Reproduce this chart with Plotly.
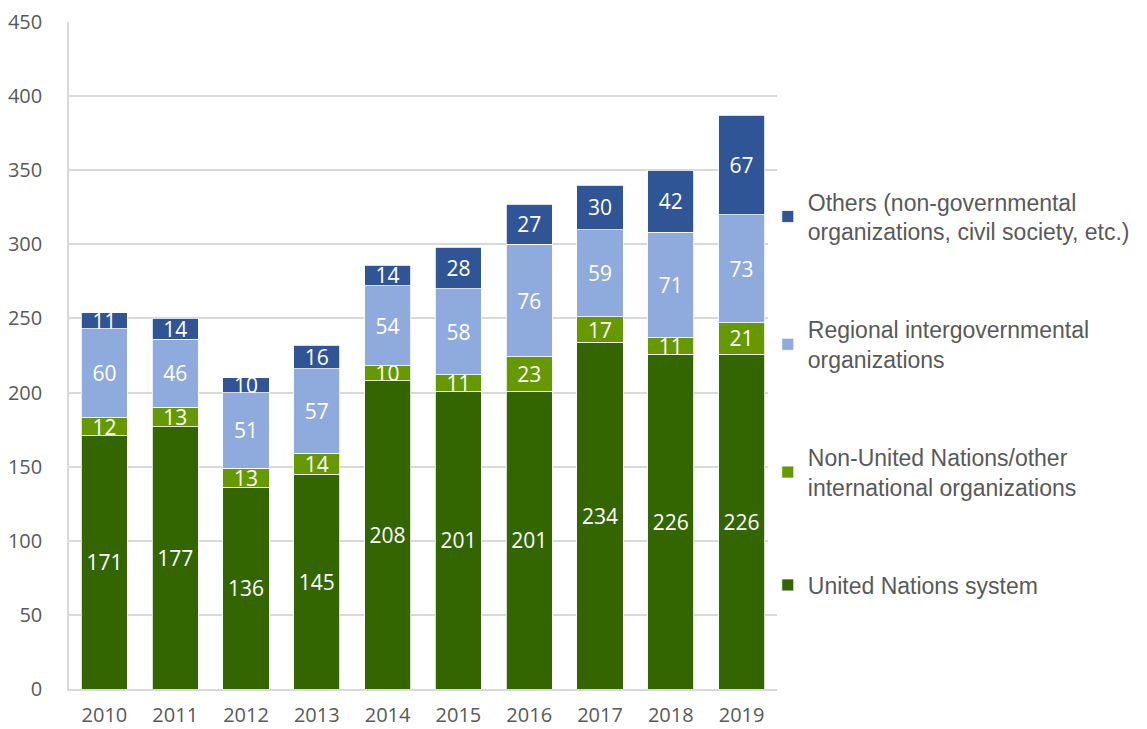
import plotly.graph_objects as go

years = ["2010", "2011", "2012", "2013", "2014", "2015", "2016", "2017", "2018", "2019"]
un_system = [171, 177, 136, 145, 208, 201, 201, 234, 226, 226]
non_un = [12, 13, 13, 14, 10, 11, 23, 17, 11, 21]
regional = [60, 46, 51, 57, 54, 58, 76, 59, 71, 73]
others = [11, 14, 10, 16, 14, 28, 27, 30, 42, 67]

series = [
    ("United Nations system", un_system, "#336600"),
    ("Non-United Nations/other<br>international organizations", non_un, "#669900"),
    ("Regional intergovernmental<br>organizations", regional, "#8FAADC"),
    ("Others (non-governmental<br>organizations, civil society, etc.)", others, "#2F5597"),
]

fig = go.Figure()
for i, (name, vals, color) in enumerate(series):
    fig.add_trace(go.Bar(
        x=years, y=vals, name=name,
        marker=dict(color=color, line=dict(color="white", width=0.8)),
        text=[str(v) for v in vals],
        textposition="inside",
        insidetextanchor="middle",
        textangle=0,
        constraintext="none",
        textfont=dict(color="white", size=21, family="Open Sans"),
        legendgroup=f"g{i}",
        legendrank=1000 - i,
    ))

fig.update_layout(
    barmode="stack",
    bargap=0.35,
    width=1147, height=729,
    margin=dict(l=61, r=378, t=14, b=48, autoexpand=False),
    plot_bgcolor="white", paper_bgcolor="white",
    legend=dict(
        x=0.987, y=0.763, xanchor="left", yanchor="top",
        traceorder="grouped",
        tracegroupgap=65,
        font=dict(family="Liberation Sans, Arial", size=23, color="#595959"),
        itemwidth=30,
    ),
    showlegend=True,
)
fig.update_xaxes(
    showline=True, linecolor="#D9D9D9", linewidth=1.5,
    tickfont=dict(family="Open Sans", size=20, color="#595959"),
    ticks="",
    ticklabelstandoff=7,
    automargin=False,
)
fig.update_yaxes(
    range=[0, 450], dtick=50,
    showgrid=True, gridcolor="#D9D9D9", gridwidth=1.5,
    showline=True, linecolor="#D9D9D9", linewidth=1.5,
    zeroline=False,
    tickfont=dict(family="Open Sans", size=20, color="#595959"),
    ticklabelstandoff=21,
    ticklabeloverflow="allow",
    automargin=False,
)

fig.write_html("out.html")
